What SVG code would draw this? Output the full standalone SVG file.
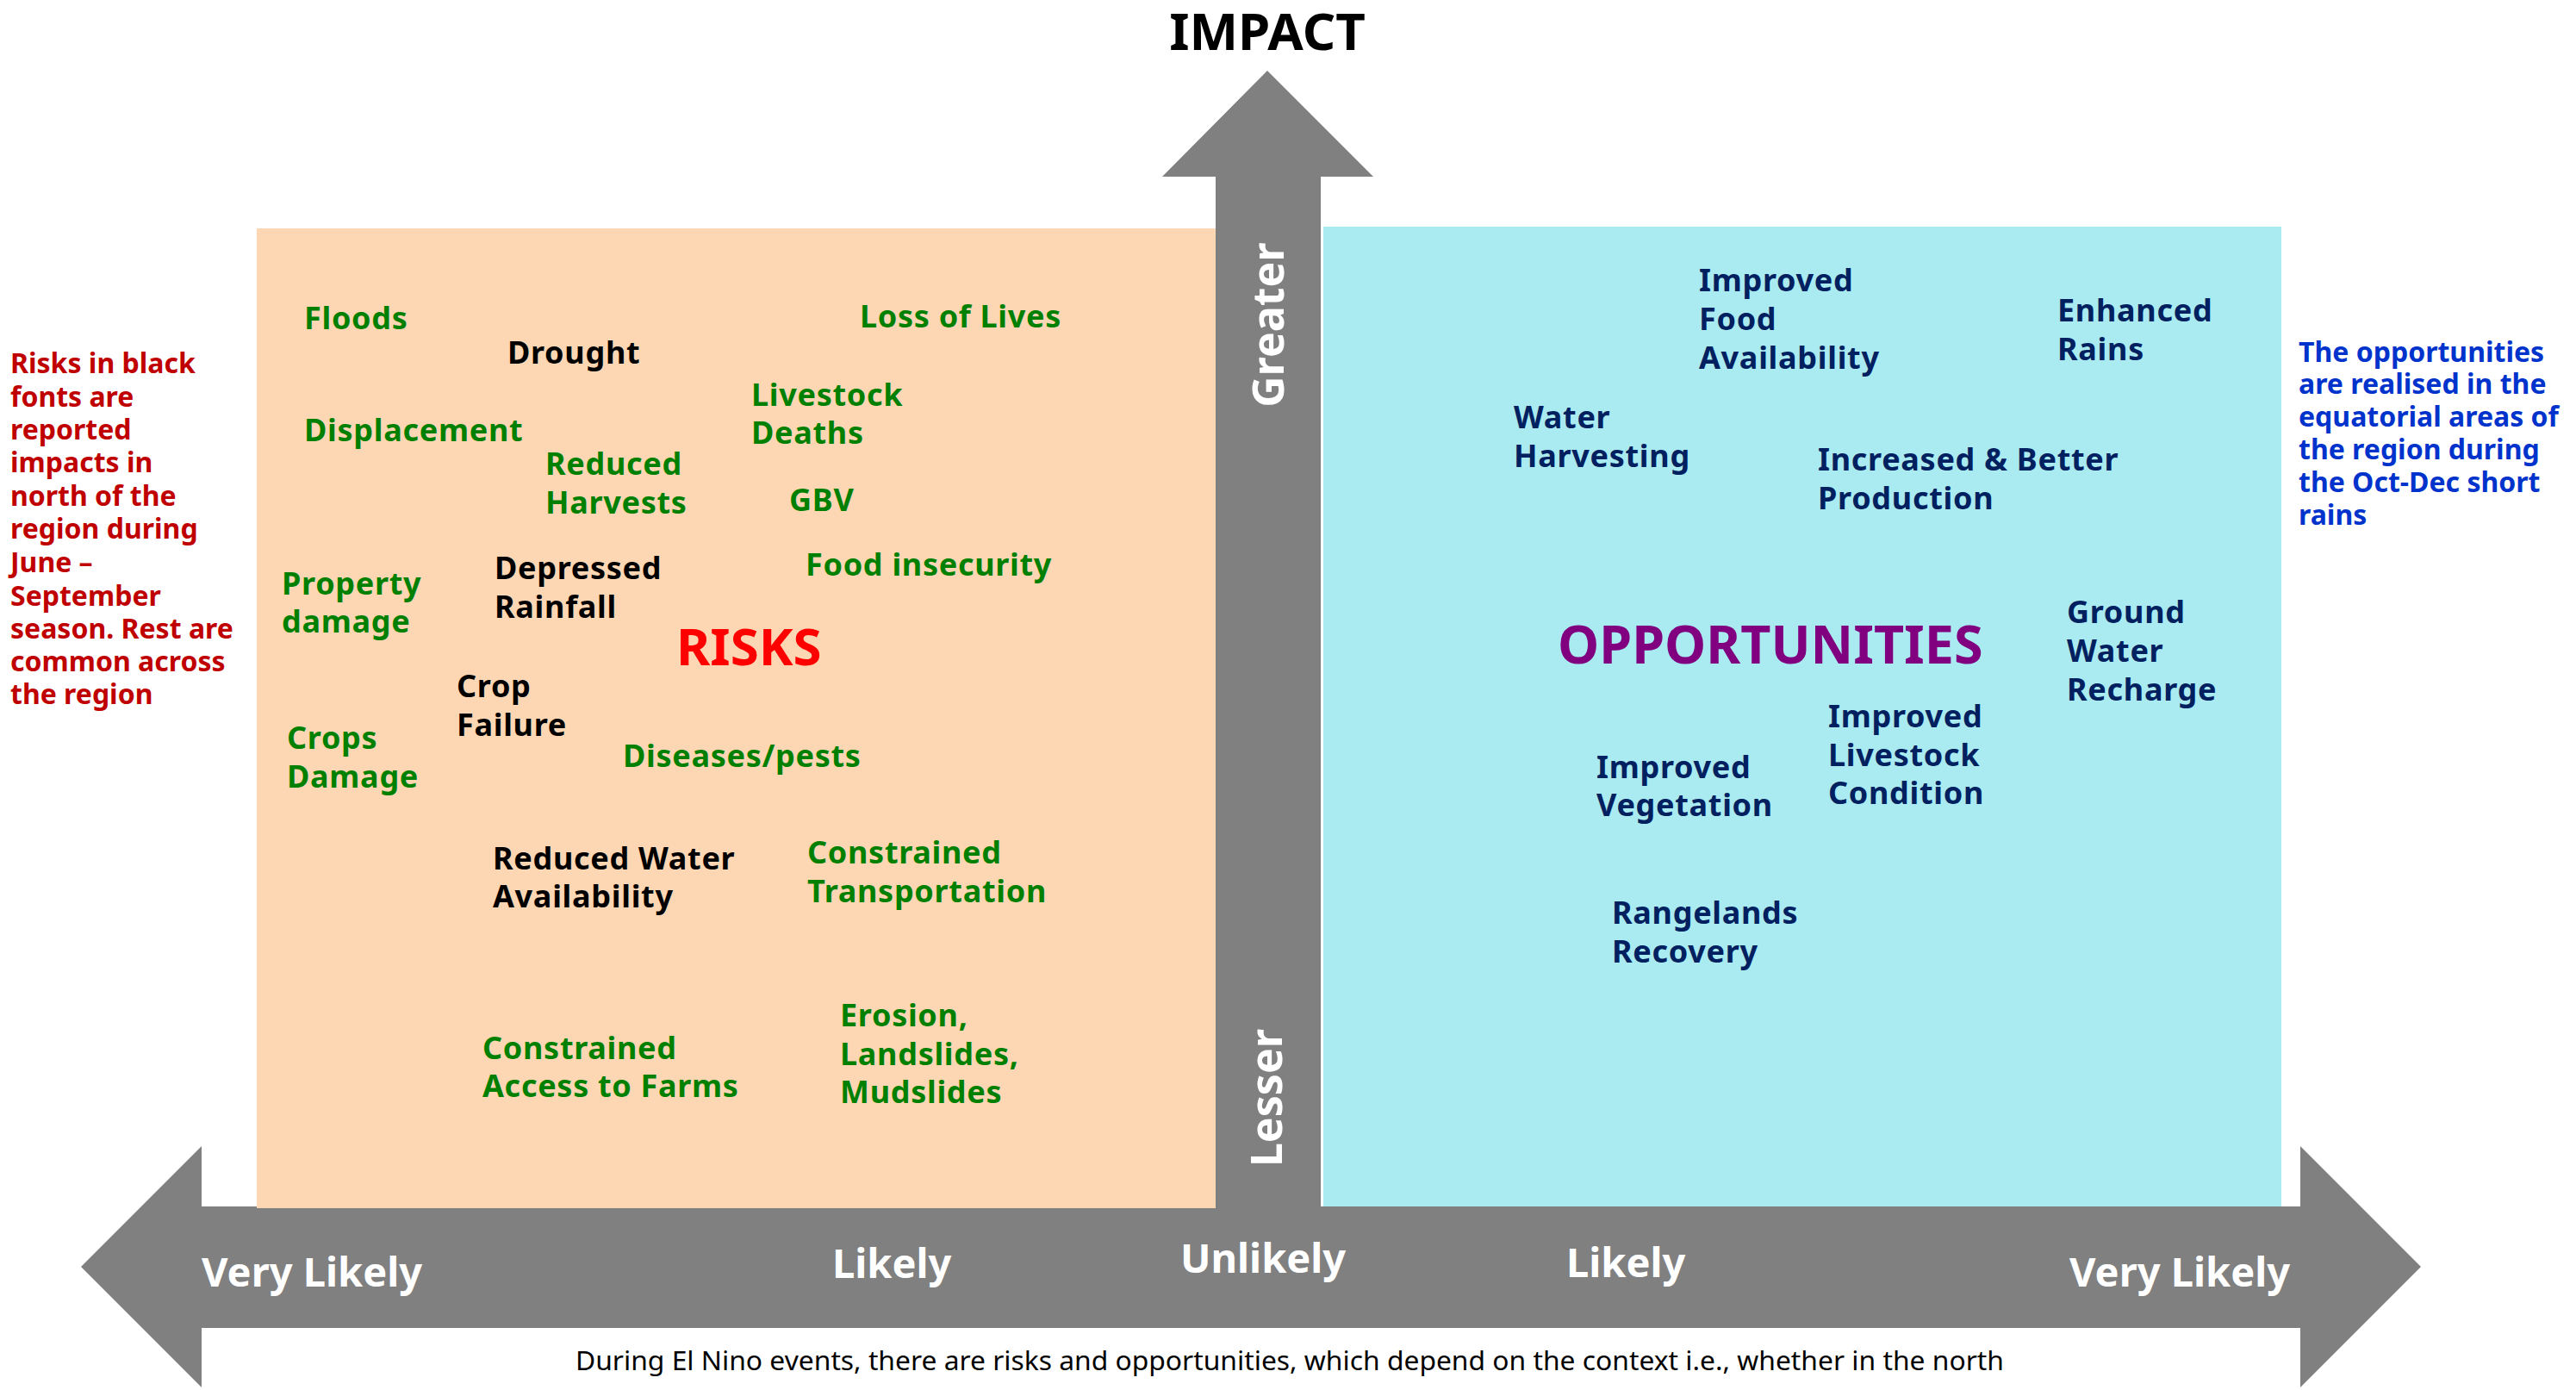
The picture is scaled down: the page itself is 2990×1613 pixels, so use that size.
<svg xmlns="http://www.w3.org/2000/svg" width="2990" height="1613" viewBox="0 0 2990 1613">
  <style>
    text { font-family: "Noto Sans", "Open Sans", "DejaVu Sans", sans-serif; font-weight: 700; }
    .lbl { font-size: 36px; letter-spacing: 0.7px; }
    .g { fill: #008000; }
    .k { fill: #000000; }
    .o { fill: #002060; }
    .ax { fill: #ffffff; font-size: 47px; }
    .vax { fill: #ffffff; font-size: 50px; text-anchor: middle; }
    .note { font-size: 32px; }
    .arrow { fill: #808080; }
  </style>

  <rect width="2990" height="1613" fill="#ffffff"/>

  <!-- quadrant panels -->
  <g id="panels">
    <rect id="risks-panel" x="298" y="265" width="1113" height="1137" fill="#FDD7B4"/>
    <rect id="opportunities-panel" x="1536" y="263" width="1112" height="1137" fill="#A9EBF0"/>
  </g>

  <!-- axes: impact (vertical) and likelihood (horizontal, two-headed) -->
  <g id="connectors">
    <polygon id="impact-axis" class="arrow" points="1471,82 1594,205 1533,205 1533,1400 1411,1400 1411,205 1349,205"/>
    <polygon id="likelihood-axis" class="arrow" points="94,1470 234,1330 234,1400 2670,1400 2670,1330 2810,1470 2670,1610 2670,1541 234,1541 234,1610"/>
    <rect x="298" y="1400" width="1113" height="2" fill="#FDD7B4"/>
  </g>

  <g id="title-impact"><text x="1471" y="58" font-size="60" text-anchor="middle" fill="#000">IMPACT</text></g>

  <!-- vertical axis labels -->
  <g id="axis-greater"><text class="vax" transform="translate(1490,377) rotate(-90)">Greater</text></g>
  <g id="axis-lesser"><text class="vax" transform="translate(1488,1274) rotate(-90)">Lesser</text></g>

  <!-- horizontal axis labels -->
  <g id="axis-very-likely-left"><text class="ax" x="234" y="1493">Very Likely</text></g>
  <g id="axis-likely-left"><text class="ax" x="966" y="1483">Likely</text></g>
  <g id="axis-unlikely"><text class="ax" x="1370" y="1477">Unlikely</text></g>
  <g id="axis-likely-right"><text class="ax" x="1818" y="1482">Likely</text></g>
  <g id="axis-very-likely-right"><text class="ax" x="2402" y="1493">Very Likely</text></g>

  <!-- risks -->
  <g id="risk-floods"><text class="lbl g" x="353" y="382">Floods</text></g>
  <g id="risk-drought"><text class="lbl k" x="589" y="422">Drought</text></g>
  <g id="risk-displacement"><text class="lbl g" x="353" y="512">Displacement</text></g>
  <g id="risk-loss-of-lives"><text class="lbl g" x="998" y="380">Loss of Lives</text></g>
  <g id="risk-livestock-deaths"><text class="lbl g" x="872" y="471">Livestock<tspan x="872" y="515">Deaths</tspan></text></g>
  <g id="risk-reduced-harvests"><text class="lbl g" x="633" y="551">Reduced<tspan x="633" y="596">Harvests</tspan></text></g>
  <g id="risk-gbv"><text class="lbl g" x="916" y="593">GBV</text></g>
  <g id="risk-property-damage"><text class="lbl g" x="327" y="690">Property<tspan x="327" y="734">damage</tspan></text></g>
  <g id="risk-depressed-rainfall"><text class="lbl k" x="574" y="672">Depressed<tspan x="574" y="717">Rainfall</tspan></text></g>
  <g id="risk-food-insecurity"><text class="lbl g" x="935" y="668">Food insecurity</text></g>
  <g id="risks-title"><text x="785" y="772" font-size="60" fill="#FF0000">RISKS</text></g>
  <g id="risk-crop-failure"><text class="lbl k" x="530" y="809">Crop<tspan x="530" y="854">Failure</tspan></text></g>
  <g id="risk-crops-damage"><text class="lbl g" x="333" y="869">Crops<tspan x="333" y="914">Damage</tspan></text></g>
  <g id="risk-diseases-pests"><text class="lbl g" x="723" y="890">Diseases/pests</text></g>
  <g id="risk-reduced-water"><text class="lbl k" x="572" y="1009">Reduced Water<tspan x="572" y="1053">Availability</tspan></text></g>
  <g id="risk-constrained-transport"><text class="lbl g" x="937" y="1002">Constrained<tspan x="937" y="1047">Transportation</tspan></text></g>
  <g id="risk-constrained-access"><text class="lbl g" x="560" y="1229">Constrained<tspan x="560" y="1273">Access to Farms</tspan></text></g>
  <g id="risk-erosion"><text class="lbl g" x="975" y="1191">Erosion,<tspan x="975" y="1236">Landslides,</tspan><tspan x="975" y="1280">Mudslides</tspan></text></g>

  <!-- opportunities -->
  <g id="opp-food-availability"><text class="lbl o" x="1972" y="338">Improved<tspan x="1972" y="383">Food</tspan><tspan x="1972" y="428">Availability</tspan></text></g>
  <g id="opp-enhanced-rains"><text class="lbl o" x="2388" y="373">Enhanced<tspan x="2388" y="418">Rains</tspan></text></g>
  <g id="opp-water-harvesting"><text class="lbl o" x="1757" y="497">Water<tspan x="1757" y="542">Harvesting</tspan></text></g>
  <g id="opp-production"><text class="lbl o" x="2110" y="546">Increased &amp; Better<tspan x="2110" y="591">Production</tspan></text></g>
  <g id="opportunities-title"><text x="1808" y="770" font-size="61" fill="#800080">OPPORTUNITIES</text></g>
  <g id="opp-ground-water"><text class="lbl o" x="2399" y="723">Ground<tspan x="2399" y="768">Water</tspan><tspan x="2399" y="813">Recharge</tspan></text></g>
  <g id="opp-livestock-condition"><text class="lbl o" x="2122" y="844">Improved<tspan x="2122" y="889">Livestock</tspan><tspan x="2122" y="933">Condition</tspan></text></g>
  <g id="opp-vegetation"><text class="lbl o" x="1853" y="903">Improved<tspan x="1853" y="947">Vegetation</tspan></text></g>
  <g id="opp-rangelands"><text class="lbl o" x="1871" y="1072">Rangelands<tspan x="1871" y="1117">Recovery</tspan></text></g>

  <!-- side notes -->
  <g id="note-risks">
    <text class="note" fill="#C00000" x="12" y="433">Risks in black<tspan x="12" y="472">fonts are</tspan><tspan x="12" y="510">reported</tspan><tspan x="12" y="548">impacts in</tspan><tspan x="12" y="587">north of the</tspan><tspan x="12" y="625">region during</tspan><tspan x="12" y="664">June –</tspan><tspan x="12" y="703">September</tspan><tspan x="12" y="741">season. Rest are</tspan><tspan x="12" y="779">common across</tspan><tspan x="12" y="817">the region</tspan></text>
  </g>
  <g id="note-opportunities">
    <text class="note" fill="#0033CC" x="2668" y="420">The opportunities<tspan x="2668" y="457">are realised in the</tspan><tspan x="2668" y="495">equatorial areas of</tspan><tspan x="2668" y="533">the region during</tspan><tspan x="2668" y="571">the Oct-Dec short</tspan><tspan x="2668" y="609">rains</tspan></text>
  </g>

  <!-- caption -->
  <g id="caption">
    <text x="668" y="1590" font-size="31.8" style="font-weight:400" fill="#000">During El Nino events, there are risks and opportunities, which depend on the context i.e., whether in the north</text>
  </g>
</svg>
